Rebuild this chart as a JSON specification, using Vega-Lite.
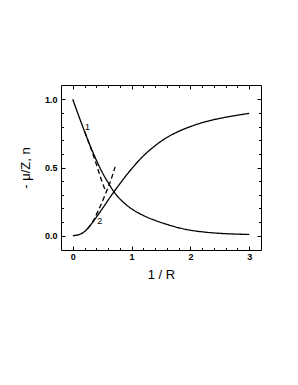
{
  "$schema": "https://vega.github.io/schema/vega-lite/v6.json",
  "autosize": {"type": "none"},
  "padding": {"left": 61, "top": 85, "right": 37, "bottom": 135},
  "width": 200,
  "height": 165,
  "background": "white",
  "config": {
    "view": {"stroke": "black", "strokeWidth": 1},
    "axis": {
      "domain": false, "grid": false, "tickColor": "black", "tickWidth": 1,
      "labelColor": "black", "titleColor": "black",
      "labelFont": "Liberation Sans", "labelFontWeight": "bold", "labelFontSize": 9,
      "titleFont": "Liberation Sans", "titleFontWeight": "normal", "titleFontSize": 13
    }
  },
  "datasets": {
    "curves": [
      {"x": 0, "y": 1.0, "series": "mu"}, {"x": 0.1, "y": 0.88, "series": "mu"}, {"x": 0.2, "y": 0.765, "series": "mu"},
      {"x": 0.3, "y": 0.655, "series": "mu"}, {"x": 0.4, "y": 0.555, "series": "mu"}, {"x": 0.5, "y": 0.465, "series": "mu"},
      {"x": 0.6, "y": 0.39, "series": "mu"}, {"x": 0.7, "y": 0.322, "series": "mu"}, {"x": 0.8, "y": 0.27, "series": "mu"},
      {"x": 0.9, "y": 0.23, "series": "mu"}, {"x": 1.0, "y": 0.197, "series": "mu"}, {"x": 1.2, "y": 0.148, "series": "mu"},
      {"x": 1.4, "y": 0.112, "series": "mu"}, {"x": 1.6, "y": 0.083, "series": "mu"}, {"x": 1.8, "y": 0.058, "series": "mu"},
      {"x": 2.0, "y": 0.04, "series": "mu"}, {"x": 2.25, "y": 0.026, "series": "mu"}, {"x": 2.5, "y": 0.017, "series": "mu"},
      {"x": 2.75, "y": 0.012, "series": "mu"}, {"x": 3.0, "y": 0.009, "series": "mu"},
      {"x": 0, "y": 0.0, "series": "n"}, {"x": 0.1, "y": 0.007, "series": "n"}, {"x": 0.2, "y": 0.03, "series": "n"},
      {"x": 0.3, "y": 0.077, "series": "n"}, {"x": 0.4, "y": 0.135, "series": "n"}, {"x": 0.5, "y": 0.196, "series": "n"},
      {"x": 0.6, "y": 0.26, "series": "n"}, {"x": 0.7, "y": 0.322, "series": "n"}, {"x": 0.8, "y": 0.38, "series": "n"},
      {"x": 0.9, "y": 0.437, "series": "n"}, {"x": 1.0, "y": 0.49, "series": "n"}, {"x": 1.2, "y": 0.585, "series": "n"},
      {"x": 1.4, "y": 0.66, "series": "n"}, {"x": 1.6, "y": 0.72, "series": "n"}, {"x": 1.8, "y": 0.765, "series": "n"},
      {"x": 2.0, "y": 0.8, "series": "n"}, {"x": 2.25, "y": 0.835, "series": "n"}, {"x": 2.5, "y": 0.86, "series": "n"},
      {"x": 2.75, "y": 0.88, "series": "n"}, {"x": 3.0, "y": 0.897, "series": "n"},
      {"x": 0.2, "y": 0.765, "series": "approx1"}, {"x": 0.3, "y": 0.65, "series": "approx1"}, {"x": 0.4, "y": 0.525, "series": "approx1"},
      {"x": 0.47, "y": 0.43, "series": "approx1"}, {"x": 0.55, "y": 0.335, "series": "approx1"},
      {"x": 0.25, "y": 0.05, "series": "approx2"}, {"x": 0.35, "y": 0.11, "series": "approx2"}, {"x": 0.45, "y": 0.2, "series": "approx2"},
      {"x": 0.55, "y": 0.3, "series": "approx2"}, {"x": 0.65, "y": 0.41, "series": "approx2"}, {"x": 0.72, "y": 0.505, "series": "approx2"}
    ],
    "labels": [
      {"x": 0.25, "y": 0.8, "label": "1"},
      {"x": 0.46, "y": 0.105, "label": "2"}
    ]
  },
  "layer": [
    {
      "data": {"name": "curves"},
      "mark": {"type": "line", "color": "black", "strokeWidth": 1.3, "interpolate": "monotone"},
      "encoding": {
        "x": {"field": "x", "type": "quantitative",
          "scale": {"domain": [-0.2, 3.2], "nice": false, "zero": false},
          "axis": {"orient": "bottom", "title": "1 / R", "titlePadding": 7,
            "values": [0,0.2,0.4,0.6,0.8,1,1.2,1.4,1.6,1.8,2,2.2,2.4,2.6,2.8,3],
            "labelExpr": "datum.value % 1 == 0 ? format(datum.value, 'd') : ''",
            "tickSize": {"condition": {"test": "datum.value % 1 == 0", "value": -4}, "value": -2.5},
            "labelPadding": 6}},
        "y": {"field": "y", "type": "quantitative",
          "scale": {"domain": [-0.105, 1.105], "nice": false, "zero": false},
          "axis": {"orient": "left", "title": "- μ/Z, n", "titlePadding": 12,
            "values": [0,0.1,0.2,0.3,0.4,0.5,0.6,0.7,0.8,0.9,1],
            "labelExpr": "(datum.value*2) % 1 == 0 ? format(datum.value, '.1f') : ''",
            "tickSize": {"condition": {"test": "(datum.value*2) % 1 == 0", "value": -4}, "value": -2.5},
            "labelPadding": 8}},
        "detail": {"field": "series"},
        "strokeDash": {"field": "series", "type": "nominal",
          "scale": {"domain": ["mu", "n", "approx1", "approx2"], "range": [[1, 0], [1, 0], [5, 3], [5, 3]]},
          "legend": null}
      }
    },
    {
      "data": {"name": "labels"},
      "mark": {"type": "text", "font": "Liberation Sans", "fontSize": 9, "color": "black"},
      "encoding": {
        "x": {"field": "x", "type": "quantitative",
          "scale": {"domain": [-0.2, 3.2], "nice": false, "zero": false},
          "axis": {"orient": "top", "title": null, "labels": false,
            "values": [0,0.2,0.4,0.6,0.8,1,1.2,1.4,1.6,1.8,2,2.2,2.4,2.6,2.8,3],
            "tickSize": {"condition": {"test": "datum.value % 1 == 0", "value": -4}, "value": -2.5}}},
        "y": {"field": "y", "type": "quantitative",
          "scale": {"domain": [-0.105, 1.105], "nice": false, "zero": false},
          "axis": {"orient": "right", "title": null, "labels": false,
            "values": [0,0.1,0.2,0.3,0.4,0.5,0.6,0.7,0.8,0.9,1],
            "tickSize": {"condition": {"test": "(datum.value*2) % 1 == 0", "value": -4}, "value": -2.5}}},
        "text": {"field": "label"}
      }
    }
  ],
  "resolve": {"axis": {"x": "independent", "y": "independent"}}
}
